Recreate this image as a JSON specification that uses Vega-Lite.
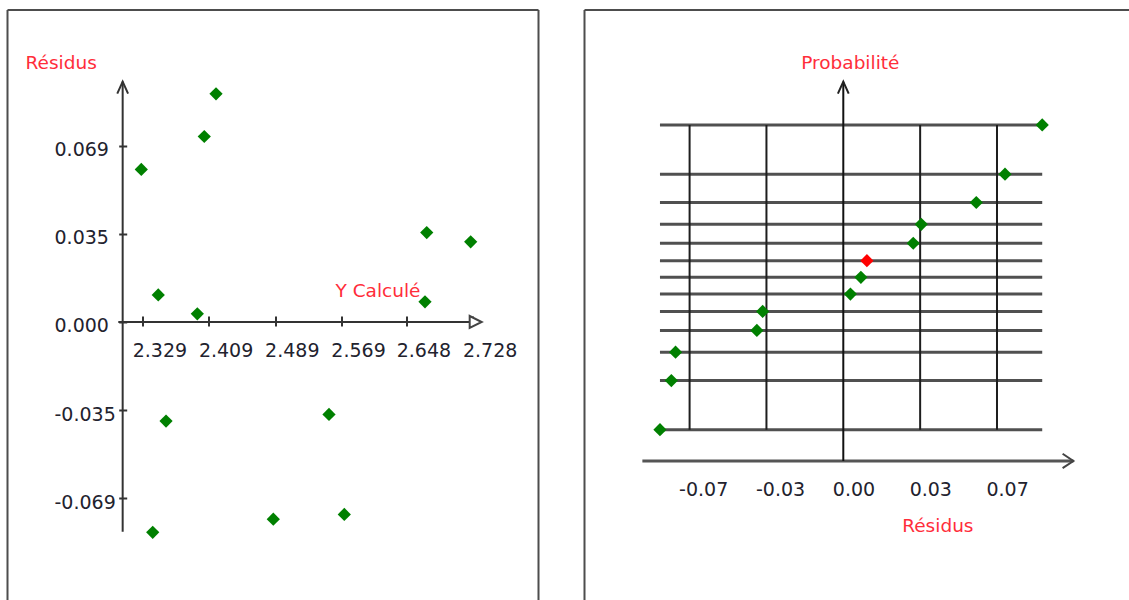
{
  "$schema": "https://vega.github.io/schema/vega-lite/v6.json",
  "padding": {"left": 6.5, "top": 9, "right": 0, "bottom": 0},
  "background": "white",
  "spacing": 46,
  "bounds": "flush",
  "config": {
    "view": {"stroke": null},
    "font": "DejaVu Sans",
    "axis": {
      "domain": false,
      "grid": false,
      "labelFont": "DejaVu Sans",
      "labelFontSize": 19,
      "labelColor": "#22222e",
      "labelOverlap": false,
      "labelFlush": false,
      "labelBound": false,
      "tickColor": "#333333",
      "tickWidth": 2,
      "titleFont": "DejaVu Sans",
      "titleFontSize": 18.5,
      "titleFontWeight": "normal",
      "titleColor": "#ff2d3a"
    }
  },
  "datasets": {
    "obs": [
      {"y_calcule": 2.3273, "residu": 0.0597, "probabilite": 0.869, "selection": "non"},
      {"y_calcule": 2.3411, "residu": -0.0823, "probabilite": -1.769, "selection": "non"},
      {"y_calcule": 2.3478, "residu": 0.0106, "probabilite": 0.194, "selection": "oui"},
      {"y_calcule": 2.3572, "residu": -0.0388, "probabilite": -0.616, "selection": "non"},
      {"y_calcule": 2.3950, "residu": 0.0032, "probabilite": -0.194, "selection": "non"},
      {"y_calcule": 2.4034, "residu": 0.0726, "probabilite": 1.198, "selection": "non"},
      {"y_calcule": 2.4176, "residu": 0.0893, "probabilite": 1.769, "selection": "non"},
      {"y_calcule": 2.4868, "residu": -0.0772, "probabilite": -1.198, "selection": "non"},
      {"y_calcule": 2.5541, "residu": -0.0362, "probabilite": -0.396, "selection": "non"},
      {"y_calcule": 2.5726, "residu": -0.0753, "probabilite": -0.869, "selection": "non"},
      {"y_calcule": 2.6701, "residu": 0.0079, "probabilite": 0.0, "selection": "non"},
      {"y_calcule": 2.6722, "residu": 0.0350, "probabilite": 0.616, "selection": "non"},
      {"y_calcule": 2.7253, "residu": 0.0314, "probabilite": 0.396, "selection": "non"}
    ],
    "reperes": [
      {"repere": -0.069},
      {"repere": -0.0345},
      {"repere": 0.0345},
      {"repere": 0.069}
    ],
    "un": [{}]
  },
  "hconcat": [
    {
      "width": 531,
      "height": 590,
      "layer": [
        {
          "data": {"name": "obs"},
          "mark": {"type": "point", "shape": "diamond", "filled": true, "size": 175, "color": "#008000", "opacity": 1},
          "encoding": {
            "x": {
              "field": "y_calcule", "type": "quantitative",
              "scale": {"domain": [2.16564, 2.80725], "nice": false, "zero": false},
              "axis": {
                "values": [2.329, 2.409, 2.489, 2.569, 2.648, 2.728],
                "format": ".3f",
                "offset": -284,
                "tickSize": 10,
                "labelAlign": "left",
                "labelOffset": -10.5,
                "labelBaseline": "middle",
                "labelPadding": 24,
                "title": "Y Calculé",
                "titleX": 327.5,
                "titleY": -26,
                "titleAlign": "left",
                "titleBaseline": "middle"
              }
            },
            "y": {
              "field": "residu", "type": "quantitative",
              "scale": {"domain": [-0.10881, 0.12211], "nice": false, "zero": false},
              "axis": {
                "values": [-0.069, -0.0345, 0, 0.0345, 0.069],
                "labelExpr": "replace(format(datum.value + (datum.value > 0 ? 1e-9 : (datum.value < 0 ? -1e-9 : 0)), '.3f'), '\u2212', '-')",
                "offset": -119.2,
                "tickSize": 8,
                "labelAlign": "left",
                "labelBaseline": "middle",
                "labelPadding": 64.7,
                "labelOffset": 4,
                "title": "Résidus",
                "titleX": -101.7,
                "titleY": 52,
                "titleAngle": 0,
                "titleAlign": "left",
                "titleBaseline": "middle"
              }
            }
          }
        },
        {
          "data": {"name": "un"},
          "mark": {"type": "rule", "color": "#4d4d4d", "strokeWidth": 2},
          "encoding": {"x": {"datum": 2.16564, "type": "quantitative"}}
        },
        {
          "data": {"name": "un"},
          "mark": {"type": "rule", "color": "#4d4d4d", "strokeWidth": 2},
          "encoding": {"x": {"datum": 2.80725, "type": "quantitative"}}
        },
        {
          "data": {"name": "un"},
          "mark": {"type": "rule", "color": "#4d4d4d", "strokeWidth": 2},
          "encoding": {"y": {"datum": 0.12211, "type": "quantitative"}}
        },
        {
          "data": {"name": "un"},
          "mark": {"type": "rule", "color": "#333333", "strokeWidth": 2},
          "encoding": {
            "x": {"datum": 2.2995, "type": "quantitative"},
            "x2": {"datum": 2.7386},
            "y": {"datum": 0, "type": "quantitative"}
          }
        },
        {
          "data": {"name": "un"},
          "mark": {"type": "rule", "color": "#333333", "strokeWidth": 2},
          "encoding": {
            "x": {"datum": 2.3048, "type": "quantitative"},
            "y": {"datum": -0.0821, "type": "quantitative"},
            "y2": {"datum": 0.0941}
          }
        },
        {
          "data": {"name": "un"},
          "mark": {"type": "point", "shape": "M-0.9,2L0,0L0.9,2", "filled": false, "size": 144, "color": "#333333", "strokeWidth": 2, "opacity": 1},
          "encoding": {
            "x": {"datum": 2.3048, "type": "quantitative"},
            "y": {"datum": 0.0941, "type": "quantitative"}
          }
        },
        {
          "data": {"name": "un"},
          "mark": {"type": "point", "shape": "M-2,-1L0,0L-2,1Z", "filled": true, "fill": "white", "stroke": "#444444", "size": 144, "strokeWidth": 2, "opacity": 1},
          "encoding": {
            "x": {"datum": 2.7386, "type": "quantitative"},
            "y": {"datum": 0, "type": "quantitative"}
          }
        }
      ]
    },
    {
      "width": 544.5,
      "height": 590,
      "layer": [
        {
          "data": {"name": "obs"},
          "transform": [
            {"joinaggregate": [
              {"op": "min", "field": "residu", "as": "rmin"},
              {"op": "max", "field": "residu", "as": "rmax"}
            ]}
          ],
          "mark": {"type": "rule", "color": "#505050", "strokeWidth": 3},
          "encoding": {
            "x": {
              "field": "rmin", "type": "quantitative",
              "scale": {"domain": [-0.11618, 0.12826], "nice": false, "zero": false},
              "axis": {
                "values": [-0.069, -0.0345, 0, 0.0345, 0.069],
                "labelExpr": "replace(format(datum.value, '.2f'), '\u2212', '-')",
                "offset": -139,
                "ticks": false,
                "tickSize": 0,
                "labelAlign": "left",
                "labelOffset": -11,
                "labelBaseline": "middle",
                "labelPadding": 28,
                "title": "Résidus",
                "titleX": 317.2,
                "titleY": 64,
                "titleAlign": "left",
                "titleBaseline": "middle"
              }
            },
            "x2": {"field": "rmax"},
            "y": {
              "field": "probabilite", "type": "quantitative",
              "scale": {"domain": [-3.7461, 3.104], "nice": false, "zero": false},
              "axis": {
                "labels": false,
                "ticks": false,
                "offset": 0,
                "title": "Probabilité",
                "titleX": 216.2,
                "titleY": 52.3,
                "titleAngle": 0,
                "titleAlign": "left",
                "titleBaseline": "middle"
              }
            }
          }
        },
        {
          "data": {"name": "reperes"},
          "mark": {"type": "rule", "color": "#1e1e1e", "strokeWidth": 2},
          "encoding": {
            "x": {"field": "repere", "type": "quantitative"},
            "y": {"datum": -1.769, "type": "quantitative"},
            "y2": {"datum": 1.769}
          }
        },
        {
          "data": {"name": "un"},
          "mark": {"type": "rule", "color": "#4d4d4d", "strokeWidth": 2},
          "encoding": {"x": {"datum": -0.11618, "type": "quantitative"}}
        },
        {
          "data": {"name": "un"},
          "mark": {"type": "rule", "color": "#4d4d4d", "strokeWidth": 2},
          "encoding": {"y": {"datum": 3.104, "type": "quantitative"}}
        },
        {
          "data": {"name": "un"},
          "mark": {"type": "rule", "color": "#555555", "strokeWidth": 3},
          "encoding": {
            "x": {"datum": -0.0902, "type": "quantitative"},
            "x2": {"datum": 0.1033},
            "y": {"datum": -2.132, "type": "quantitative"}
          }
        },
        {
          "data": {"name": "un"},
          "mark": {"type": "rule", "color": "#111111", "strokeWidth": 2},
          "encoding": {
            "x": {"datum": 0, "type": "quantitative"},
            "y": {"datum": -2.132, "type": "quantitative"},
            "y2": {"datum": 2.2716}
          }
        },
        {
          "data": {"name": "un"},
          "mark": {"type": "point", "shape": "M-0.9,2L0,0L0.9,2", "filled": false, "size": 144, "color": "#222222", "strokeWidth": 2, "opacity": 1},
          "encoding": {
            "x": {"datum": 0, "type": "quantitative"},
            "y": {"datum": 2.2716, "type": "quantitative"}
          }
        },
        {
          "data": {"name": "un"},
          "mark": {"type": "point", "shape": "M-1.8,-1.2L0,0L-1.8,1.2", "filled": false, "size": 144, "color": "#444444", "strokeWidth": 2, "opacity": 1},
          "encoding": {
            "x": {"datum": 0.1033, "type": "quantitative"},
            "y": {"datum": -2.132, "type": "quantitative"}
          }
        },
        {
          "data": {"name": "obs"},
          "mark": {"type": "point", "shape": "diamond", "filled": true, "size": 175, "opacity": 1},
          "encoding": {
            "x": {"field": "residu", "type": "quantitative"},
            "y": {"field": "probabilite", "type": "quantitative"},
            "color": {
              "field": "selection", "type": "nominal",
              "scale": {"domain": ["non", "oui"], "range": ["#008000", "#ff0000"]},
              "legend": null
            }
          }
        }
      ]
    }
  ]
}
